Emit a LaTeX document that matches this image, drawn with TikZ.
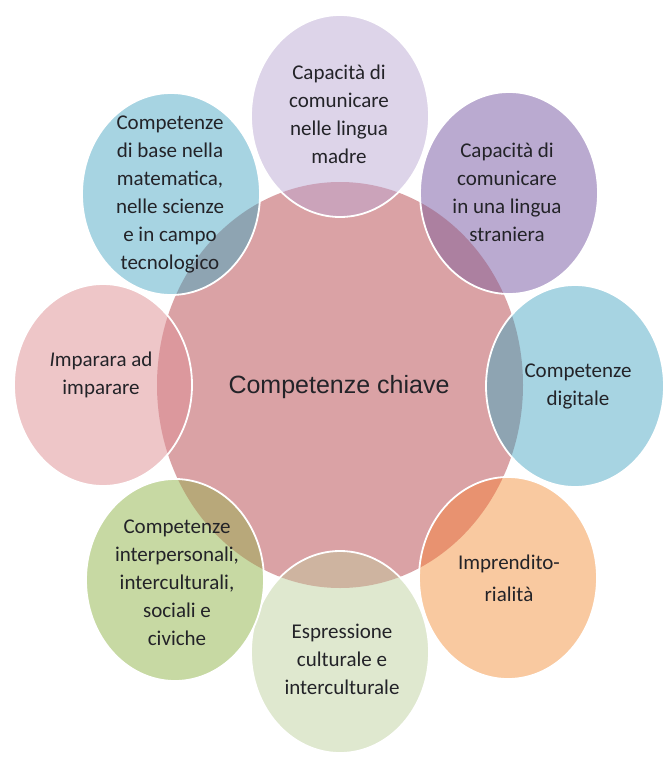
\documentclass[tikz,border=0pt]{standalone}
\usepackage{fontspec}
\setmainfont{Carlito}
\newfontfamily\keyfont{Liberation Sans}

% fills of the bubbles and of the parts they share with the hub
\definecolor{hubpink}{RGB}{218,162,165}
\definecolor{lilac}{RGB}{221,212,233}
\definecolor{lilacdk}{RGB}{203,163,186}
\definecolor{plum}{RGB}{186,170,208}
\definecolor{plumdk}{RGB}{172,128,160}
\definecolor{sky}{RGB}{167,212,226}
\definecolor{skydk}{RGB}{142,164,178}
\definecolor{peach}{RGB}{249,201,160}
\definecolor{peachdk}{RGB}{232,146,112}
\definecolor{sage}{RGB}{223,232,207}
\definecolor{sagedk}{RGB}{206,180,160}
\definecolor{olive}{RGB}{199,217,163}
\definecolor{olivedk}{RGB}{184,168,122}
\definecolor{rose}{RGB}{238,198,200}
\definecolor{rosedk}{RGB}{220,152,157}
\definecolor{ink}{RGB}{35,35,40}

\tikzset{
  bubbletext/.style={align=center, text=ink, font=\fontsize{21}{28}\selectfont},
  keytext/.style={text=ink, font=\keyfont\fontsize{25}{30}\selectfont},
  rim/.style={draw=white, line width=1.8pt}
}

\begin{document}
\begin{tikzpicture}[x=1pt,y=-1pt]
\useasboundingbox (0,0) rectangle (664,757);

\coordinate (hub) at (340,385);
\fill[hubpink] (hub) ellipse [x radius=183, y radius=203];

% the eight bubbles round the hub, darker where they lie over it
\foreach \i/\x/\y/\fc/\oc in {1/340/116/lilac/lilacdk, 2/509/193/plum/plumdk,
  3/575/386/sky/skydk, 4/508/578/peach/peachdk, 5/340/652/sage/sagedk,
  6/175/580/olive/olivedk, 7/103/385/rose/rosedk, 8/171/194/sky/skydk}
{
  \coordinate (b\i) at (\x,\y);
  \fill[\fc] (b\i) ellipse [x radius=89, y radius=101];
  \begin{scope}
    \clip (b\i) ellipse [x radius=89, y radius=101];
    \fill[\oc] (hub) ellipse [x radius=183, y radius=203];
  \end{scope}
  \draw[rim] (b\i) ellipse [x radius=89, y radius=101];
}

\node[keytext] (key) at (339,387) {Competenze chiave};

\node[bubbletext] (mothertongue) at (339,114) {Capacità di\\comunicare\\nelle lingua\\madre};
\node[bubbletext] (foreign) at (507,192) {Capacità di\\comunicare\\in una lingua\\straniera};
\node[bubbletext] (digital) at (578,386) {Competenze\\digitale};
\node[bubbletext] (enterprise) at (509,578) {Imprendito-\\[4pt]rialità};
\node[bubbletext] (culture) at (342,659) {Espressione\\culturale e\\interculturale};
\node[bubbletext] (civic) at (177,583) {Competenze\\interpersonali,\\interculturali,\\sociali e\\civiche};
\node[bubbletext] (learning) at (101,375) {\textit{I}mparara ad\\imparare};
\node[bubbletext] (science) at (170,194) {Competenze\\di base nella\\matematica,\\nelle scienze\\e in campo\\tecnologico};

\end{tikzpicture}
\end{document}
